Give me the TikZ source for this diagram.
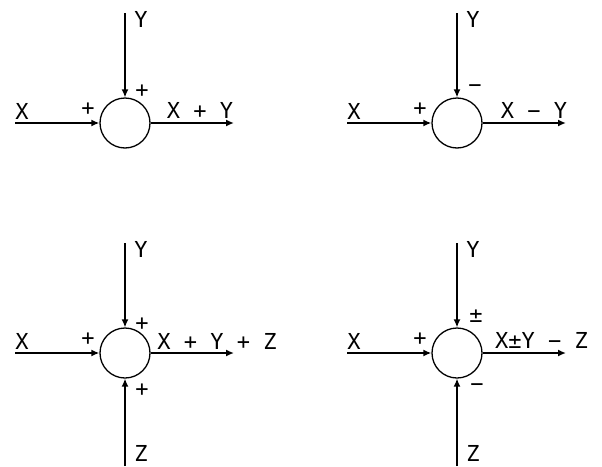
\documentclass[tikz,border=0pt]{standalone}
\usepackage{fontspec}
\newfontfamily\plotfont{DejaVu Sans Mono}
\usetikzlibrary{arrows.meta, positioning}

\tikzset{
  sumnode/.style={circle, draw, line width=1.3pt, minimum size=50pt, inner sep=0pt},
  sig/.style={line width=1.4pt, -{Latex[length=8pt,width=7pt]}},
  lbl/.style={font=\plotfont\fontsize{22}{22}\selectfont, inner sep=0pt},
}

\begin{document}
\begin{tikzpicture}[x=1pt, y=-1pt]
  \useasboundingbox (0,0) rectangle (602,466);
  % four summing points: circle, X input and output
  \foreach \n/\cx/\cy/\w in {1/125/123/2.4, 2/457/123/2.4, 3/125/353/1.6, 4/457/353/1.6}{
    \node[sumnode] (s\n) at (\cx,\cy) {};
    \coordinate (x\n) at (\cx-110,\cy);
    \coordinate (o\n) at (\cx+109,\cy);
    \coordinate (y\n) at (\cx,\cy-110);
    \draw[sig, line width=\w pt] (x\n) -- (s\n);
    \draw[sig, line width=\w pt] (s\n) -- (o\n);
    \draw[sig] (y\n) -- (s\n);
    \node[lbl] (lx\n) at (\cx-103,\cy-12) {X};
    \node[lbl] (lxs\n) at (\cx-37,\cy-14) {+};
    \node[lbl] (ly\n) at (\cx+16,\cy-104) {Y};
  }
  % Z inputs from below
  \foreach \n/\cx in {3/125, 4/457}{
    \coordinate (z\n) at (\cx,466);
    \draw[sig] (z\n) -- (s\n);
    \node[lbl] (lz\n) at (\cx+16,453) {Z};
  }
  % signs at the Y and Z inputs
  \node[lbl] (lys1) at (142,91) {+};
  \node[lbl] (lys2) at (475,89) {−};
  \node[lbl] (lys3) at (142,324) {+};
  \node[lbl] (lys4) at (476,316) {±};
  \node[lbl] (lzs3) at (142,390) {+};
  \node[lbl] (lzs4) at (477,388) {−};
  % outputs
  \node[lbl] (out1) at (200,110) {X + Y};
  \node[lbl] (out2) at (534,110) {X − Y};
  \node[lbl] (out3) at (217,341) {X + Y + Z};
  \node[lbl, anchor=west] (out4) at (495,340) {X±Y − Z};
\end{tikzpicture}
\end{document}
